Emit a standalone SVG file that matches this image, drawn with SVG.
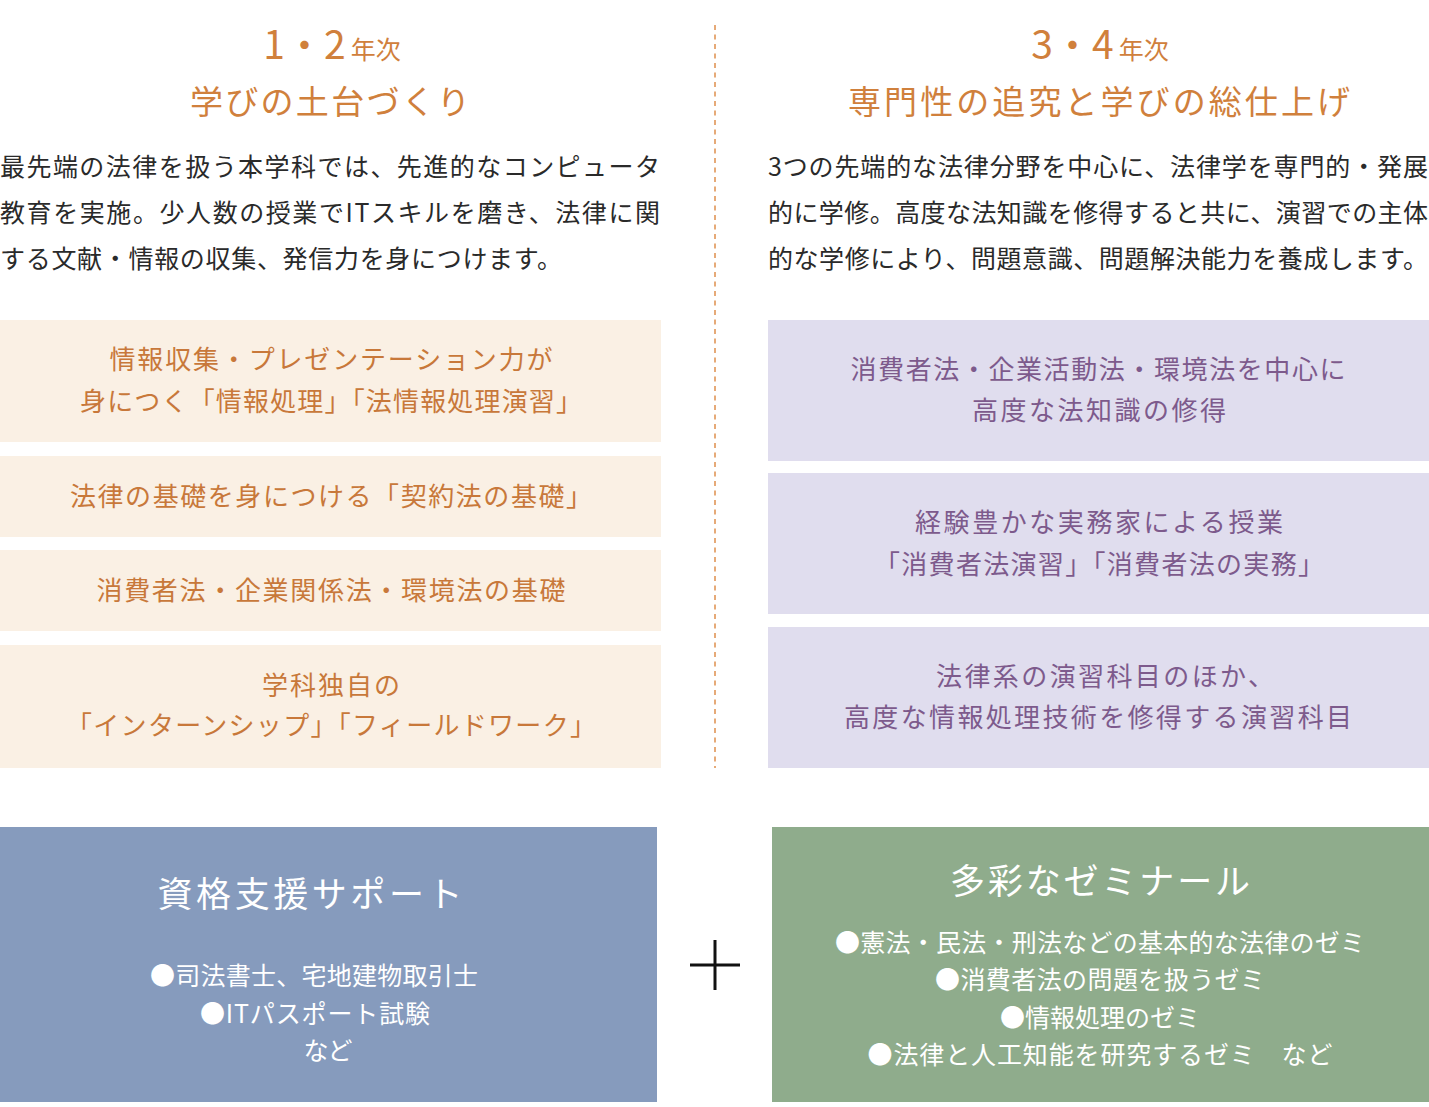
<svg xmlns="http://www.w3.org/2000/svg" width="1429" height="1107" viewBox="0 0 1429 1107">
<style>
text{font-family:"Noto Sans CJK JP","Noto Sans",sans-serif;}
.ttl{fill:#d0803c;text-anchor:middle;}
.para{fill:#2a2a2a;font-size:25px;}
.lbox{fill:#faf0e4;}
.rbox{fill:#e0ddee;}
.ltx{fill:#c8783a;font-size:26px;text-anchor:middle;}
.rtx{fill:#7d5a8c;font-size:26px;text-anchor:middle;}
.wtx{fill:#ffffff;text-anchor:middle;}
</style>
<rect width="1429" height="1107" fill="#ffffff"/>

<g id="divider">
<line x1="715" y1="25" x2="715" y2="768" stroke="#e6aa78" stroke-width="2" stroke-dasharray="5 4.5"/>
</g>

<g id="left-header">
<text class="ttl" x="332" y="59"><tspan font-size="39">1・2</tspan><tspan font-size="25" dx="5">年次</tspan></text>
<text class="ttl" x="330" y="114" font-size="33" textLength="280" lengthAdjust="spacing">学びの土台づくり</text>
<text class="para" x="0" y="176" textLength="660" lengthAdjust="spacing">最先端の法律を扱う本学科では、先進的なコンピュータ</text>
<text class="para" x="0" y="222" textLength="660" lengthAdjust="spacing">教育を実施。少人数の授業でITスキルを磨き、法律に関</text>
<text class="para" x="0" y="268" textLength="562" lengthAdjust="spacing">する文献・情報の収集、発信力を身につけます。</text>
</g>

<g id="right-header">
<text class="ttl" x="1100" y="59"><tspan font-size="39">3・4</tspan><tspan font-size="25" dx="5">年次</tspan></text>
<text class="ttl" x="1099" y="114" font-size="33" textLength="502" lengthAdjust="spacing">専門性の追究と学びの総仕上げ</text>
<text class="para" x="768" y="176" textLength="660" lengthAdjust="spacing">3つの先端的な法律分野を中心に、法律学を専門的・発展</text>
<text class="para" x="768" y="222" textLength="660" lengthAdjust="spacing">的に学修。高度な法知識を修得すると共に、演習での主体</text>
<text class="para" x="768" y="268" textLength="660" lengthAdjust="spacing">的な学修により、問題意識、問題解決能力を養成します。</text>
</g>

<g id="left-box-1">
<rect class="lbox" x="0" y="320" width="661" height="122"/>
<text class="ltx" x="331" y="369" textLength="443" lengthAdjust="spacing">情報収集・プレゼンテーション力が</text>
<text class="ltx" x="331" y="411" textLength="502" lengthAdjust="spacing">身につく「情報処理」「法情報処理演習」</text>
</g>
<g id="left-box-2">
<rect class="lbox" x="0" y="456" width="661" height="81"/>
<text class="ltx" x="331" y="506" textLength="522" lengthAdjust="spacing">法律の基礎を身につける「契約法の基礎」</text>
</g>
<g id="left-box-3">
<rect class="lbox" x="0" y="550" width="661" height="81"/>
<text class="ltx" x="331" y="600" textLength="469" lengthAdjust="spacing">消費者法・企業関係法・環境法の基礎</text>
</g>
<g id="left-box-4">
<rect class="lbox" x="0" y="645" width="661" height="123"/>
<text class="ltx" x="331" y="695" textLength="138" lengthAdjust="spacing">学科独自の</text>
<text class="ltx" x="331" y="735" textLength="530" lengthAdjust="spacing">「インターンシップ」「フィールドワーク」</text>
</g>

<g id="right-box-1">
<rect class="rbox" x="768" y="320" width="661" height="141"/>
<text class="rtx" x="1098" y="379" textLength="495" lengthAdjust="spacing">消費者法・企業活動法・環境法を中心に</text>
<text class="rtx" x="1099" y="420" textLength="254" lengthAdjust="spacing">高度な法知識の修得</text>
</g>
<g id="right-box-2">
<rect class="rbox" x="768" y="473" width="661" height="141"/>
<text class="rtx" x="1099" y="532" textLength="368" lengthAdjust="spacing">経験豊かな実務家による授業</text>
<text class="rtx" x="1099" y="574" textLength="450" lengthAdjust="spacing">「消費者法演習」「消費者法の実務」</text>
</g>
<g id="right-box-3">
<rect class="rbox" x="768" y="627" width="661" height="141"/>
<text class="rtx" x="1105" y="686" textLength="338" lengthAdjust="spacing">法律系の演習科目のほか、</text>
<text class="rtx" x="1098" y="727" textLength="508" lengthAdjust="spacing">高度な情報処理技術を修得する演習科目</text>
</g>

<g id="qualification-box">
<rect x="0" y="827" width="657" height="275" fill="#869bbd"/>
<text class="wtx" x="310" y="907" font-size="35" textLength="305" lengthAdjust="spacing">資格支援サポート</text>
<text class="wtx" x="314" y="985" font-size="25" textLength="328" lengthAdjust="spacing">●司法書士、宅地建物取引士</text>
<text class="wtx" x="315" y="1023" font-size="25" textLength="230" lengthAdjust="spacing">●ITパスポート試験</text>
<text class="wtx" x="328" y="1060" font-size="25" textLength="49" lengthAdjust="spacing">など</text>
</g>

<g id="plus">
<line x1="690" y1="965" x2="740" y2="965" stroke="#111111" stroke-width="3"/>
<line x1="715" y1="940" x2="715" y2="990" stroke="#111111" stroke-width="3"/>
</g>

<g id="seminar-box">
<rect x="772" y="827" width="657" height="275" fill="#8fac8c"/>
<text class="wtx" x="1100" y="894" font-size="35" textLength="300" lengthAdjust="spacing">多彩なゼミナール</text>
<text class="wtx" x="1100" y="952" font-size="25" textLength="530" lengthAdjust="spacing">●憲法・民法・刑法などの基本的な法律のゼミ</text>
<text class="wtx" x="1100" y="989" font-size="25" textLength="330" lengthAdjust="spacing">●消費者法の問題を扱うゼミ</text>
<text class="wtx" x="1100" y="1027" font-size="25" textLength="200" lengthAdjust="spacing">●情報処理のゼミ</text>
<text class="wtx" x="1100" y="1064" font-size="25" textLength="465" lengthAdjust="spacing">●法律と人工知能を研究するゼミ　など</text>
</g>
</svg>
